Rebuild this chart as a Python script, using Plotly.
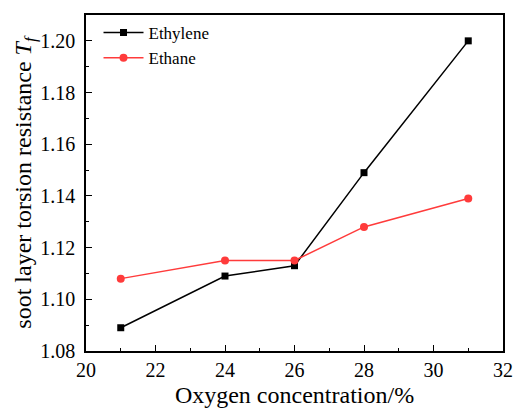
import plotly.graph_objects as go

oxygen = [21, 24, 26, 28, 31]
ethylene = [1.089, 1.109, 1.113, 1.149, 1.200]
ethane = [1.108, 1.115, 1.115, 1.128, 1.139]

font_family = "Liberation Serif"

fig = go.Figure()
fig.add_trace(go.Scatter(x=oxygen, y=ethylene, mode="lines+markers", name="Ethylene",
                         line=dict(color="black", width=1.5),
                         marker=dict(symbol="square", size=7, color="black")))
fig.add_trace(go.Scatter(x=oxygen, y=ethane, mode="lines+markers", name="Ethane",
                         line=dict(color="#FF3B3B", width=1.5),
                         marker=dict(symbol="circle", size=8, color="#FF3B3B")))

axis_common = dict(showline=True, linecolor="black", linewidth=1.5, mirror=True,
                   ticks="inside", ticklen=6, tickwidth=1.2, tickcolor="black",
                   showgrid=False, zeroline=False, automargin=False,
                   tickfont=dict(size=20, color="black"))

fig.update_xaxes(range=[20, 32], tickvals=[20, 22, 24, 26, 28, 30, 32],
                 minor=dict(ticks="inside", ticklen=3, tickcolor="black", dtick=1, tick0=20, showgrid=False),
                 title=dict(text="Oxygen concentration/%" + "\u00a0" * 4, font=dict(size=24, color="black"), standoff=6),
                 **axis_common)
fig.update_yaxes(range=[1.08, 1.21], tickvals=[1.08, 1.10, 1.12, 1.14, 1.16, 1.18, 1.20],
                 tickformat=".2f", ticklabelstandoff=5,
                 minor=dict(ticks="inside", ticklen=3, tickcolor="black", dtick=0.01, tick0=1.08, showgrid=False),
                 title=dict(text="soot layer torsion resistance <i>T<sub>f</sub></i>", font=dict(size=24, color="black"), standoff=2),
                 **axis_common)

fig.update_layout(width=513, height=408, margin=dict(l=86, r=10, t=15, b=57),
                  font=dict(family=font_family, color="black"),
                  plot_bgcolor="white", paper_bgcolor="white",
                  legend=dict(x=0.03, y=1.0, xanchor="left", yanchor="top",
                              font=dict(size=17, color="black"),
                              bgcolor="rgba(0,0,0,0)", tracegroupgap=0, itemwidth=40))

fig.write_html("out.html")
